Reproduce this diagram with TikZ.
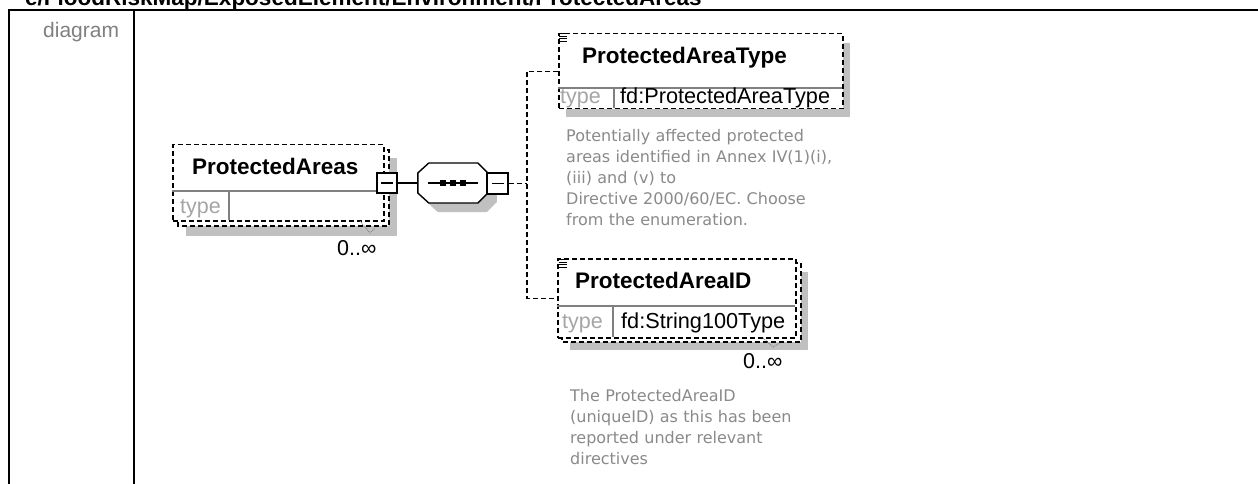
\documentclass[tikz,border=0pt]{standalone}
\usepackage{fontspec}
\setmainfont{Liberation Sans}
\newfontfamily\descfont{DejaVu Sans}
\usetikzlibrary{calc}
\definecolor{shadowgray}{RGB}{192,192,192}
\definecolor{typegray}{RGB}{165,165,165}
\definecolor{descgray}{RGB}{138,138,138}
\definecolor{labelgray}{RGB}{128,128,128}
\definecolor{rulegray}{RGB}{128,128,128}
\begin{document}
\begin{tikzpicture}[x=1pt,y=-1pt,
  elbox/.style={draw=black, line width=1.5pt, dash pattern=on 5pt off 3pt, fill=white, inner sep=0pt, anchor=north west},
  backbox/.style={draw=black, line width=1.5pt, dash pattern=on 5pt off 3pt, fill=white},
  shadowfill/.style={fill=shadowgray, draw=none},
  rowrule/.style={draw=rulegray, line width=1.2pt},
  framerule/.style={draw=black, line width=2pt},
  minusbox/.style={draw=black, line width=1.4pt, fill=white, inner sep=0pt, minimum size=20pt},
  minusbar/.style={draw=black, line width=1.4pt},
  elname/.style={font=\fontsize{22.5}{27}\selectfont\bfseries, inner sep=0pt, anchor=base west},
  typelbl/.style={font=\fontsize{21.5}{26}\selectfont, text=typegray, inner sep=0pt, anchor=base west},
  typeval/.style={font=\fontsize{21.7}{26}\selectfont, inner sep=0pt, anchor=base west},
  occ/.style={font=\fontsize{21.5}{26}\selectfont, inner sep=0pt, anchor=base west},
  desc/.style={font=\descfont\fontsize{16}{21}\selectfont, text=descgray, inner sep=0pt, anchor=base west, align=left, text width=320pt},
  conn/.style={draw=black, line width=1.4pt},
  optconn/.style={draw=black, line width=1.4pt, dash pattern=on 5pt off 3pt},
  tailmark/.style={draw=gray, line width=0.9pt, densely dotted},
  iconline/.style={draw=black, line width=0.9pt},
]
\useasboundingbox (0,0) rectangle (1258,484);
\fill[white] (0,0) rectangle (1258,484);

% title (cut at top) and table frame
\node[elname] (title) at (25,5.5) {e/FloodRiskMap/ExposedElement/Environment/ProtectedAreas};
\draw[framerule] (9,484) -- (9,10.5) -- (1258,10.5);
\draw[framerule] (134,10.5) -- (134,484);
\node[font=\fontsize{21}{25}\selectfont, text=labelgray, inner sep=0pt, anchor=base west] (diag) at (43,37.5) {diagram};

% ---------- ProtectedAreas ----------
\fill[shadowfill] (186,158) rectangle (397,236);
\draw[backbox] (178,150) rectangle (389,226);
\node[elbox, minimum width=211pt, minimum height=76pt] (pa) at (172,144) {};
\draw[rowrule] (172,191) -- (383,191);
\draw[rowrule] (229,191) -- (229,220);
\node[elname] (paname) at (192,174.5) {ProtectedAreas};
\node[typelbl] (patype) at (180,213.3) {type};
\draw[tailmark] (360,221) -- (370,233) -- (375,228);
\node[occ] (paocc) at (337,255) {0..\char"221E};
\node[minusbox] (pam) at (387,183) {};
\draw[minusbar] ($(pam.center)+(-6,0)$) -- ($(pam.center)+(6,0)$);

% ---------- sequence compositor ----------
\node[minimum width=70pt, minimum height=40pt, inner sep=0pt] (seq) at (453,183) {};
\fill[shadowfill] ($(seq.west)+(9,9)$) -- ++(0,-10) -- ++(11,-10) -- ++(49,0) -- ++(10,10) -- ++(0,20) -- ++(-10,10) -- ++(-49,0) -- ++(-11,-10) -- cycle;
\draw[line width=1.4pt, fill=white] (seq.west) -- ++(0,-10) -- ++(11,-10) -- ++(49,0) -- ++(10,10) -- ++(0,20) -- ++(-10,10) -- ++(-49,0) -- ++(-11,-10) -- cycle;
\draw[line width=1.3pt] ($(seq.center)+(-25,0)$) -- ($(seq.center)+(25,0)$);
\foreach \dx in {-10,0,10} {
  \fill[black] ($(seq.center)+(\dx,0)+(-3,-3)$) rectangle ($(seq.center)+(\dx,0)+(3,3)$);
}
\node[minusbox, minimum size=21pt] (seqm) at (497.5,183.5) {};
\draw[minusbar] ($(seqm.center)+(-6,0)$) -- ($(seqm.center)+(6,0)$);
\draw[conn] (pam.east) -- (seq.west);

% ---------- ProtectedAreaType ----------
\fill[shadowfill] (566,43) rectangle (850,117);
\node[elbox, minimum width=284pt, minimum height=75pt] (c1) at (558,33) {};
\draw[rowrule] (558,88) -- (842,88);
\draw[rowrule] (614,88) -- (614,108);
\node[elname] (c1name) at (582,63.3) {ProtectedAreaType};
\node[typelbl] (c1type) at (560,103.3) {type};
\node[typeval] (c1val) at (620,103.3) {fd:ProtectedAreaType};
\foreach \yy in {33.5,36,38.5,41} { \draw[iconline] (559,\yy) -- (567,\yy); }
\node[desc] (c1desc) at (566,141.5) {Potentially affected protected\\areas identified in Annex IV(1)(i),\\(iii) and (v) to\\Directive 2000/60/EC. Choose\\from the enumeration.};

% ---------- ProtectedAreaID ----------
\fill[shadowfill] (570,272) rectangle (808,350);
\draw[backbox] (562,263) rectangle (801,342);
\node[elbox, minimum width=238pt, minimum height=79pt] (c2) at (557,258) {};
\draw[rowrule] (557,306) -- (795,306);
\draw[rowrule] (613,306) -- (613,337);
\node[elname] (c2name) at (575,288.3) {ProtectedAreaID};
\node[typelbl] (c2type) at (562,328.3) {type};
\node[typeval] (c2val) at (621,328.3) {fd:String100Type};
\foreach \yy in {259.5,262,264.5,267} { \draw[iconline] (559,\yy) -- (567,\yy); }
\draw[tailmark] (763,338) -- (773,347) -- (780,343);
\node[occ] (c2occ) at (743,368.3) {0..\char"221E};
\node[desc] (c2desc) at (570,401.5) {The ProtectedAreaID\\(uniqueID) as this has been\\reported under relevant\\directives};

% ---------- connectors to children ----------
\coordinate (fork) at (527,183.5);
\draw[optconn] (seqm.east) -- (fork);
\draw[optconn] (c1.west) -| (fork) |- (c2.west);
\end{tikzpicture}
\end{document}
